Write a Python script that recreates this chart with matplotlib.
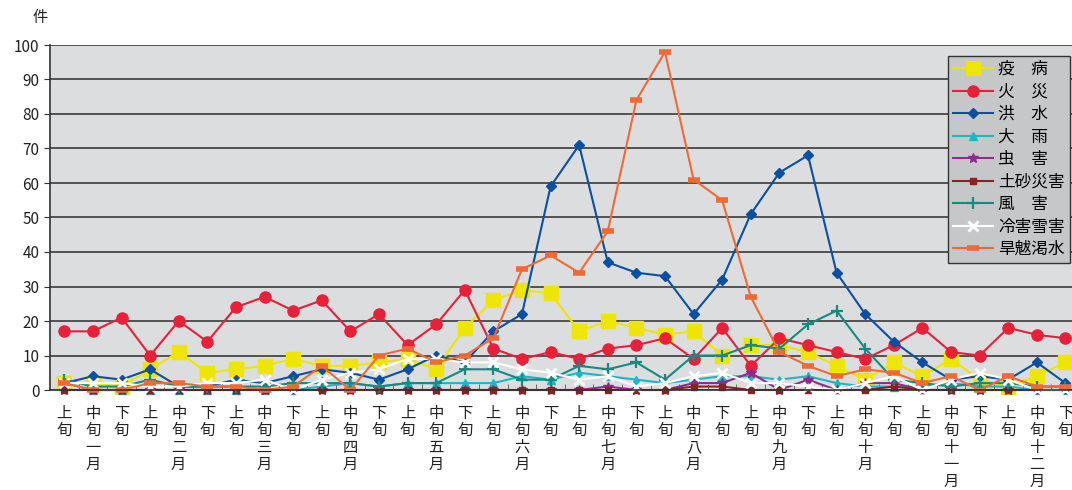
import matplotlib
matplotlib.use("Agg")
import matplotlib.pyplot as plt

plt.rcParams['font.family'] = ['Noto Sans CJK JP', 'DejaVu Sans']

# 旬ごとの区分 (各月 上旬・中旬・下旬)
months = ['一', '二', '三', '四', '五', '六', '七', '八', '九', '十', '十一', '十二']
periods = ['上旬', '中旬', '下旬']

# 災害別件数 (36旬)
ekibyo = [2, 2, 1, 6, 11, 5, 6, 7, 9, 7, 7, 8, 9, 6, 18, 26, 29, 28,
          17, 20, 18, 16, 17, 10, 13, 13, 11, 7, 3, 8, 4, 9, 3, 1, 4, 8]
kasai = [17, 17, 21, 10, 20, 14, 24, 27, 23, 26, 17, 22, 13, 19, 29, 12, 9, 11,
         9, 12, 13, 15, 9, 18, 7, 15, 13, 11, 9, 13, 18, 11, 10, 18, 16, 15]
kozui = [2, 4, 3, 6, 1, 1, 3, 2, 4, 6, 5, 3, 6, 10, 8, 17, 22, 59,
         71, 37, 34, 33, 22, 32, 51, 63, 68, 34, 22, 14, 8, 3, 4, 3, 8, 2]
ooame = [2, 0, 0, 0, 0, 0, 0, 0, 0, 1, 2, 1, 2, 2, 2, 2, 4, 3,
         5, 4, 3, 2, 3, 4, 4, 3, 4, 2, 1, 1, 1, 2, 1, 1, 0, 0]
chugai = [0, 0, 0, 0, 0, 0, 0, 0, 0, 0, 0, 0, 0, 0, 0, 0, 0, 0,
          0, 1, 0, 0, 2, 2, 5, 0, 3, 0, 2, 2, 0, 0, 0, 0, 0, 0]
dosha = [0, 0, 0, 0, 0, 0, 0, 0, 0, 0, 0, 0, 0, 0, 0, 0, 0, 0,
         0, 0, 0, 0, 1, 1, 0, 0, 0, 0, 0, 1, 0, 0, 0, 0, 0, 0]
fugai = [3, 1, 1, 3, 1, 1, 1, 1, 2, 2, 2, 1, 2, 2, 6, 6, 3, 3,
         7, 6, 8, 3, 10, 10, 13, 12, 19, 23, 12, 3, 2, 1, 2, 2, 1, 1]
reigai = [2, 2, 2, 1, 1, 2, 2, 3, 0, 3, 5, 6, 9, 9, 8, 8, 6, 5,
          3, 4, 1, 2, 4, 5, 2, 2, 1, 0, 2, 4, 0, 3, 5, 3, 0, 0]
kanbatsu = [2, 0, 0, 2, 2, 1, 1, 0, 1, 7, 0, 10, 12, 8, 10, 15, 35, 39,
            34, 46, 84, 98, 61, 55, 27, 11, 7, 4, 6, 5, 2, 4, 0, 4, 1, 1]

series = [
    ('疫\u3000病', ekibyo, dict(color='#eee600', marker='s', ms=10, mec='#eee600')),
    ('火\u3000災', kasai, dict(color='#e8203a', marker='o', ms=8, mec='#e8203a')),
    ('洪\u3000水', kozui, dict(color='#0b4fa3', marker='D', ms=5.5, mec='#0b4fa3')),
    ('大\u3000雨', ooame, dict(color='#18b8c8', marker='^', ms=6, mec='#18b8c8')),
    ('虫\u3000害', chugai, dict(color='#8e2c8e', marker='*', ms=7, mec='#8e2c8e')),
    ('土砂災害', dosha, dict(color='#8a2222', marker='s', ms=5, mec='#8a2222')),
    ('風\u3000害', fugai, dict(color='#168a80', marker='+', ms=9, mew=1.6)),
    ('冷害雪害', reigai, dict(color='white', marker='x', ms=7, mew=2)),
    ('旱魃渇水', kanbatsu, dict(color='#f06a38', marker='_', ms=8, mew=4)),
]

xlabels = []
for m in months:
    for p in periods:
        chars = list(p)
        if p == '中旬':
            chars += list(m) + ['月']
        xlabels.append('\n'.join(chars))

fig = plt.figure(figsize=(10.72, 4.9), dpi=100)
ax = fig.add_axes([50 / 1072, 100 / 490, 1 - 50 / 1072, 345 / 490])
ax.set_facecolor('#dcdddf')

x = list(range(36))
for name, vals, style in series:
    ax.plot(x, vals, lw=1.5, label=name, clip_on=False, **style)

ax.set_xlim(-0.5, 35.23)
ax.set_ylim(0, 100)
ax.set_yticks(range(0, 101, 10))
ax.yaxis.grid(True, color='#3a3a3a', lw=1.2)
ax.set_axisbelow(True)
for s in ['top', 'right']:
    ax.spines[s].set_visible(False)
ax.spines['left'].set_color('#333333')
ax.spines['left'].set_linewidth(1.2)
ax.spines['bottom'].set_color('#333333')
ax.spines['bottom'].set_linewidth(1.2)

ax.set_xticks(x)
ax.set_xticklabels(xlabels, fontsize=11, linespacing=1.0, color='#222222')
ax.set_xticks([i + 0.5 for i in range(35)], minor=True)
ax.tick_params(axis='x', which='major', length=0, pad=11)
ax.tick_params(axis='x', which='minor', direction='in', length=4, color='#555555')
ax.tick_params(axis='y', labelsize=11, length=4, color='#333333', labelcolor='#222222')

fig.text(0.030, 0.965, '件', fontsize=11, ha='left', va='center', color='#222222')

leg = ax.legend(loc='upper right', bbox_to_anchor=(0.998, 0.968), fontsize=12,
                frameon=True, fancybox=False, handlelength=2.4, labelspacing=0.33,
                borderpad=0.3, handletextpad=0.35, borderaxespad=0)
leg.get_frame().set_facecolor('#c6c7c9')
leg.get_frame().set_edgecolor('#333333')
leg.get_frame().set_alpha(1)

fig.savefig('out.png', dpi=100)
